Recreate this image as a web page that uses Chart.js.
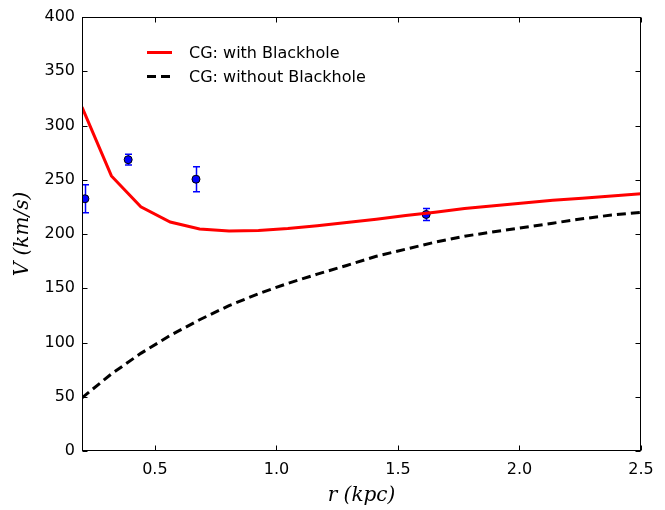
<!DOCTYPE html>
<html>
<head>
<meta charset="utf-8">
<script src="https://cdn.jsdelivr.net/npm/chart.js@4.4.1/dist/chart.umd.min.js"></script>
<style>
    html, body { margin: 0; padding: 0; background: #fff; }
    #wrap { width: 665px; height: 510px; }
</style>
</head>
<body>
<div id="wrap"><canvas id="rotation-curve" width="665" height="510"></canvas></div>
<script>
// radius grid of the model curves (kpc)
var rGrid = [0.200, 0.321, 0.442, 0.563, 0.684, 0.805, 0.926, 1.047, 1.168, 1.289,
             1.411, 1.532, 1.653, 1.774, 1.895, 2.016, 2.137, 2.258, 2.379, 2.500];
// CG model with the central black hole (km/s)
var vWithBH = [317, 253.5, 225, 211, 204.6, 202.8, 203.3, 205, 207.5, 210.5,
               213.5, 217, 220, 223.5, 226, 228.5, 231, 233, 235, 237];
// CG model without the black hole (km/s)
var vWithoutBH = [49, 71, 90, 106.5, 121, 134, 145, 154.5, 163, 171,
                  179.5, 186, 192.5, 198, 202, 206, 210, 214, 217.5, 220];
// observed points with errors
var obsR = [0.212, 0.390, 0.669, 1.616];
var obsV = [232.5, 268.5, 250.5, 218];
var obsErr = [13, 5, 11.5, 5.5];
// tick labels
var xTicks = [0.5, 1.0, 1.5, 2.0, 2.5];
var yTicks = [0, 50, 100, 150, 200, 250, 300, 350, 400];

var legendLabels = ['CG: with Blackhole', 'CG: without Blackhole'];

function toPoints(xs, ys) {
    return xs.map(function(x, i) { return { x: x, y: ys[i] }; });
}

// error bars under the observed markers
var errorBars = {
    id: 'errorBars',
    beforeDatasetsDraw: function(chart) {
        var ctx = chart.ctx;
        var xs = chart.scales.x, ys = chart.scales.y;
        ctx.save();
        ctx.strokeStyle = '#0000ff';
        ctx.lineWidth = 1.5;
        for (var i = 0; i < obsR.length; i++) {
            var px = Math.round(xs.getPixelForValue(obsR[i])) + 0.5;
            var top = ys.getPixelForValue(obsV[i] + obsErr[i]);
            var bot = ys.getPixelForValue(obsV[i] - obsErr[i]);
            ctx.beginPath();
            ctx.moveTo(px, top); ctx.lineTo(px, bot);
            ctx.moveTo(px - 3.5, top); ctx.lineTo(px + 3.5, top);
            ctx.moveTo(px - 3.5, bot); ctx.lineTo(px + 3.5, bot);
            ctx.stroke();
        }
        ctx.restore();
    }
};

// matplotlib-like frame with inward ticks, plus legend
var frameAndLegend = {
    id: 'frameAndLegend',
    afterDatasetsDraw: function(chart) {
        var ctx = chart.ctx, a = chart.chartArea;
        var xs = chart.scales.x, ys = chart.scales.y;
        var L = Math.round(a.left) + 0.5, R = Math.round(a.right) - 0.5;
        var T = Math.round(a.top) + 0.5, B = Math.round(a.bottom) - 0.5;
        ctx.save();
        ctx.strokeStyle = '#000';
        ctx.lineWidth = 1;
        ctx.strokeRect(L, T, R - L, B - T);
        ctx.beginPath();
        xTicks.forEach(function(v) {
            var px = Math.round(xs.getPixelForValue(v)) + 0.5;
            ctx.moveTo(px, B); ctx.lineTo(px, B - 5);
            ctx.moveTo(px, T); ctx.lineTo(px, T + 5);
        });
        yTicks.forEach(function(v) {
            var py = Math.round(ys.getPixelForValue(v)) + 0.5;
            ctx.moveTo(L, py); ctx.lineTo(L + 5, py);
            ctx.moveTo(R, py); ctx.lineTo(R - 5, py);
        });
        ctx.stroke();

        // legend, no frame
        var rows = [52.5, 76.5];
        ctx.font = '16px "DejaVu Sans"';
        ctx.textBaseline = 'middle';
        ctx.textAlign = 'left';
        for (var i = 0; i < 2; i++) {
            var ds = chart.data.datasets[i];
            ctx.strokeStyle = ds.borderColor;
            ctx.lineWidth = ds.borderWidth;
            ctx.setLineDash(ds.borderDash || []);
            ctx.beginPath();
            ctx.moveTo(147, rows[i]);
            ctx.lineTo(172, rows[i]);
            ctx.stroke();
            ctx.setLineDash([]);
            ctx.fillStyle = '#000';
            ctx.fillText(ds.label, 189, rows[i] + 1);
        }
        ctx.restore();
    }
};

var ctx = document.getElementById('rotation-curve');
var chart = new Chart(ctx, {
    type: 'line',
    data: {
        datasets: [{
            label: legendLabels[0],
            data: toPoints(rGrid, vWithBH),
            borderColor: '#ff0000',
            borderWidth: 3,
            pointRadius: 0,
            tension: 0,
            order: 1
        }, {
            label: legendLabels[1],
            data: toPoints(rGrid, vWithoutBH),
            borderColor: '#000000',
            borderWidth: 3,
            borderDash: [9, 5],
            pointRadius: 0,
            tension: 0,
            order: 2
        }, {
            label: 'Observed',
            data: toPoints(obsR, obsV),
            showLine: false,
            pointRadius: 4,
            pointBackgroundColor: '#0000ff',
            pointBorderColor: '#000000',
            pointBorderWidth: 1,
            order: 3
        }]
    },
    options: {
        responsive: false,
        animation: false,
        layout: { padding: { top: 17, right: 24, left: 0, bottom: 0 } },
        plugins: {
            legend: { display: false },
            tooltip: { enabled: false }
        },
        scales: {
            x: {
                type: 'linear',
                min: 0.2,
                max: 2.5,
                grid: { display: false, drawTicks: false },
                border: { display: false },
                afterBuildTicks: function(scale) {
                    scale.ticks = xTicks.map(function(v) { return { value: v }; });
                },
                afterFit: function(scale) { scale.height = 59; },
                ticks: {
                    padding: 9,
                    color: '#000',
                    maxRotation: 0,
                    font: { family: 'DejaVu Sans', size: 16 },
                    callback: function(v) { return v.toFixed(1); }
                },
                title: {
                    display: true,
                    text: 'r (kpc)',
                    color: '#000',
                    padding: { top: 0, bottom: 2 },
                    font: { family: 'DejaVu Serif', size: 20, style: 'italic' }
                }
            },
            y: {
                min: 0,
                max: 400,
                grid: { display: false, drawTicks: false },
                border: { display: false },
                afterBuildTicks: function(scale) {
                    scale.ticks = yTicks.map(function(v) { return { value: v }; });
                },
                afterFit: function(scale) { scale.width = 82; },
                ticks: {
                    padding: 7,
                    color: '#000',
                    font: { family: 'DejaVu Sans', size: 16 }
                },
                title: {
                    display: true,
                    text: 'V (km/s)',
                    color: '#000',
                    padding: { top: 11, bottom: 0 },
                    font: { family: 'DejaVu Serif', size: 20, style: 'italic' }
                }
            }
        }
    },
    plugins: [errorBars, frameAndLegend]
});
</script>
</body>
</html>
